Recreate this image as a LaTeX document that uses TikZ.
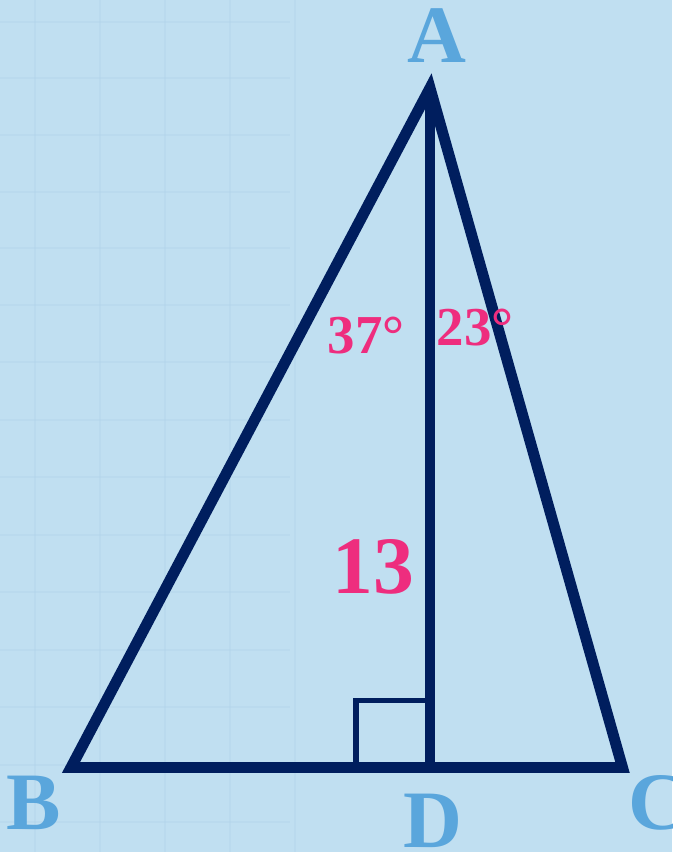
\documentclass[tikz,border=0pt]{standalone}
\usepackage{fontspec}
\setmainfont{Liberation Serif}
\usepackage{tikz}
\usetikzlibrary{positioning}

\definecolor{bgblue}{HTML}{C0DFF1}
\definecolor{gridblue}{HTML}{AFD1E8}
\definecolor{navy}{HTML}{001E5E}
\definecolor{labelblue}{HTML}{5AA6DC}
\definecolor{anglepink}{HTML}{EE2D7E}

\tikzset{
  side/.style={draw=navy,line width=7.8pt,line join=miter},
  rightmark/.style={draw=navy,line width=3.9pt},
  gridline/.style={draw=gridblue,line width=1.6pt,opacity=0.3},
  vertexlabel/.style={text=labelblue,font=\fontsize{58}{58}\selectfont\bfseries,anchor=base,inner sep=0pt},
  anglelabel/.style={text=anglepink,font=\fontsize{39}{39}\selectfont\bfseries,anchor=base,inner sep=0pt},
  lengthlabel/.style={text=anglepink,font=\fontsize{58}{58}\selectfont\bfseries,anchor=base,inner sep=0pt}
}

\begin{document}
\begin{tikzpicture}[x=0.025cm,y=-0.025cm]
                % background, size 672x852
                \useasboundingbox (0,0) rectangle (672,852);
                \fill[bgblue] (0,0) rectangle (672,852);
                \clip (0,0) rectangle (672,852);
                % faint grid on the left
                \foreach \gx in {35,100,165,230,295}
                  \draw[gridline] (\gx,0) -- (\gx,852);
                \foreach \gy in {22,78,135,192,248,305,362,420,477,535,592,650,707,765,822}
                  \draw[gridline] (0,\gy) -- (290,\gy);

                % corners of the triangle and foot of the height
                \coordinate (A) at (430,88);
                \coordinate (B) at (71,767.5);
                \coordinate (C) at (622.5,767.5);
                \coordinate (D) at (430,767.5);
                \coordinate (sqa) at (356,767.5);
                \coordinate (sqb) at (356,700.5);
                \coordinate (sqc) at (430,700.5);

                % right angle mark
                \draw[rightmark] (sqa) -- (sqb) -- (sqc);
                % triangle and height
                \draw[side] (A) -- (B) -- (C) -- cycle;
                \draw[side] (A) -- (D);

                % vertex names
                \node[vertexlabel] (labA) at (437,63) {A};
                \node[vertexlabel] (labB) at (34,829) {B};
                \node[vertexlabel] (labC) at (658,829) {C};
                \node[vertexlabel] (labD) at (433,847) {D};

                % angles and length
                \node[anglelabel] (angL) at (366,353) {37°};
                \node[anglelabel] (angR) at (475,345) {23°};
                \node[lengthlabel] (len) at (373,593) {13};
            \end{tikzpicture}
\end{document}
